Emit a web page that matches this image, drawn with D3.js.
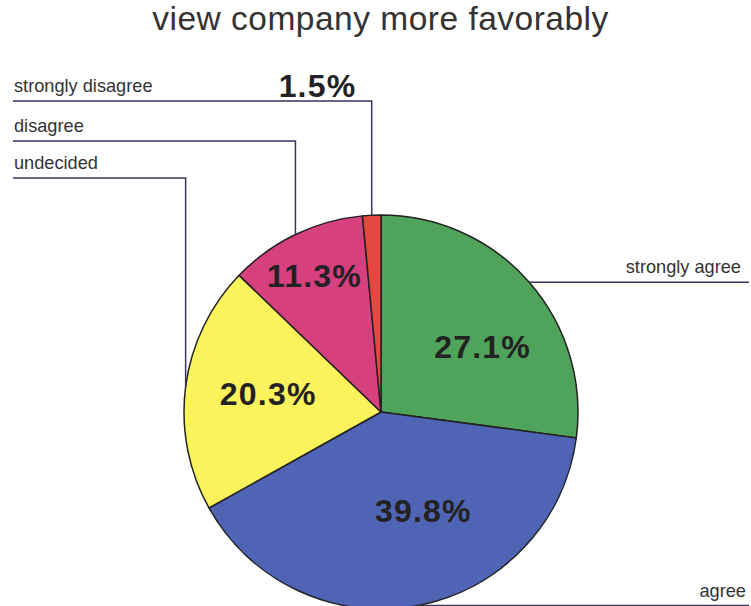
<!DOCTYPE html>
<html><head><meta charset="utf-8">
<script src="https://cdnjs.cloudflare.com/ajax/libs/d3/7.8.5/d3.min.js"></script>
<style>html,body{margin:0;padding:0;background:#fff;}svg{display:block;}</style>
</head><body>
<svg id="chart" width="751" height="606"></svg>
<script>
const title = "view company more favorably";
const categories = ["strongly agree", "agree", "undecided", "disagree", "strongly disagree"];
const values = [27.1, 39.8, 20.3, 11.3, 1.5];
const colors = ["#4fa35a", "#5064b6", "#fbf35c", "#d6407f", "#e6473e"];

// layout (not data)
const W = 751, H = 606, cx = 381, cy = 412, R = 197;
const labelPolar = [[57.0, 0.615], [156.6, 0.542], [279.3, 0.58], [334, 0.77], null];
const leftLineY = {"undecided": 178, "disagree": 141, "strongly disagree": 101};

const svg = d3.select("#chart");
svg.append("text").attr("x", 380.5).attr("y", 30).attr("text-anchor", "middle")
  .attr("font-family", "Liberation Sans, Arial, sans-serif").attr("font-size", 33.5)
  .attr("letter-spacing", 0.5)
  .attr("fill", "#333").text(title);

const data = categories.map((c, i) => ({cat: c, value: values[i], color: colors[i], i}));
const pie = d3.pie().value(d => d.value).sort(null);
const arcs = pie(data);
const arc = d3.arc().innerRadius(0).outerRadius(R);
const g = svg.append("g").attr("transform", `translate(${cx},${cy})`);
g.selectAll("path").data(arcs).join("path")
  .attr("d", arc).attr("fill", d => d.data.color)
  .attr("stroke", "#222").attr("stroke-width", 1.5).attr("stroke-linejoin", "round");

const lineColor = "#3a3560";
const fontSmall = 18.2;
arcs.forEach(a => {
  const mid = (a.startAngle + a.endAngle) / 2;
  const px = cx + R * Math.sin(mid), py = cy - R * Math.cos(mid);
  const cat = a.data.cat;
  if (px > cx) {
    const ly = py;
    svg.append("line").attr("x1", px).attr("y1", ly).attr("x2", 749).attr("y2", ly)
      .attr("stroke", lineColor).attr("stroke-width", 1.5);
    svg.append("text").attr("x", cat === "agree" ? 746 : 741).attr("y", ly - 9)
      .attr("text-anchor", "end").attr("font-family", "Liberation Sans, Arial, sans-serif")
      .attr("font-size", fontSmall).attr("fill", "#333").text(cat);
  } else {
    const ly = leftLineY[cat];
    svg.append("polyline").attr("points", `${px},${py} ${px},${ly} 13,${ly}`)
      .attr("fill", "none").attr("stroke", lineColor).attr("stroke-width", 1.5);
    svg.append("text").attr("x", 14).attr("y", ly - 9.5)
      .attr("font-family", "Liberation Sans, Arial, sans-serif")
      .attr("font-size", fontSmall).attr("fill", "#333").text(cat);
  }
});

const fmt = v => v.toFixed(1) + "%";
arcs.forEach((a, i) => {
  let x, y;
  if (labelPolar[i]) {
    const ang = labelPolar[i][0] * Math.PI / 180, rr = labelPolar[i][1] * R;
    x = cx + rr * Math.sin(ang); y = cy - rr * Math.cos(ang);
  } else { x = 317.5; y = 85; }
  svg.append("text").attr("x", x).attr("y", y).attr("dy", "0.36em")
    .attr("text-anchor", "middle").attr("font-family", "Liberation Sans, Arial, sans-serif")
    .attr("font-weight", "bold").attr("font-size", 32).attr("letter-spacing", 1.2)
    .attr("fill", "#222")
    .text(fmt(a.data.value));
});
</script>
</body></html>
